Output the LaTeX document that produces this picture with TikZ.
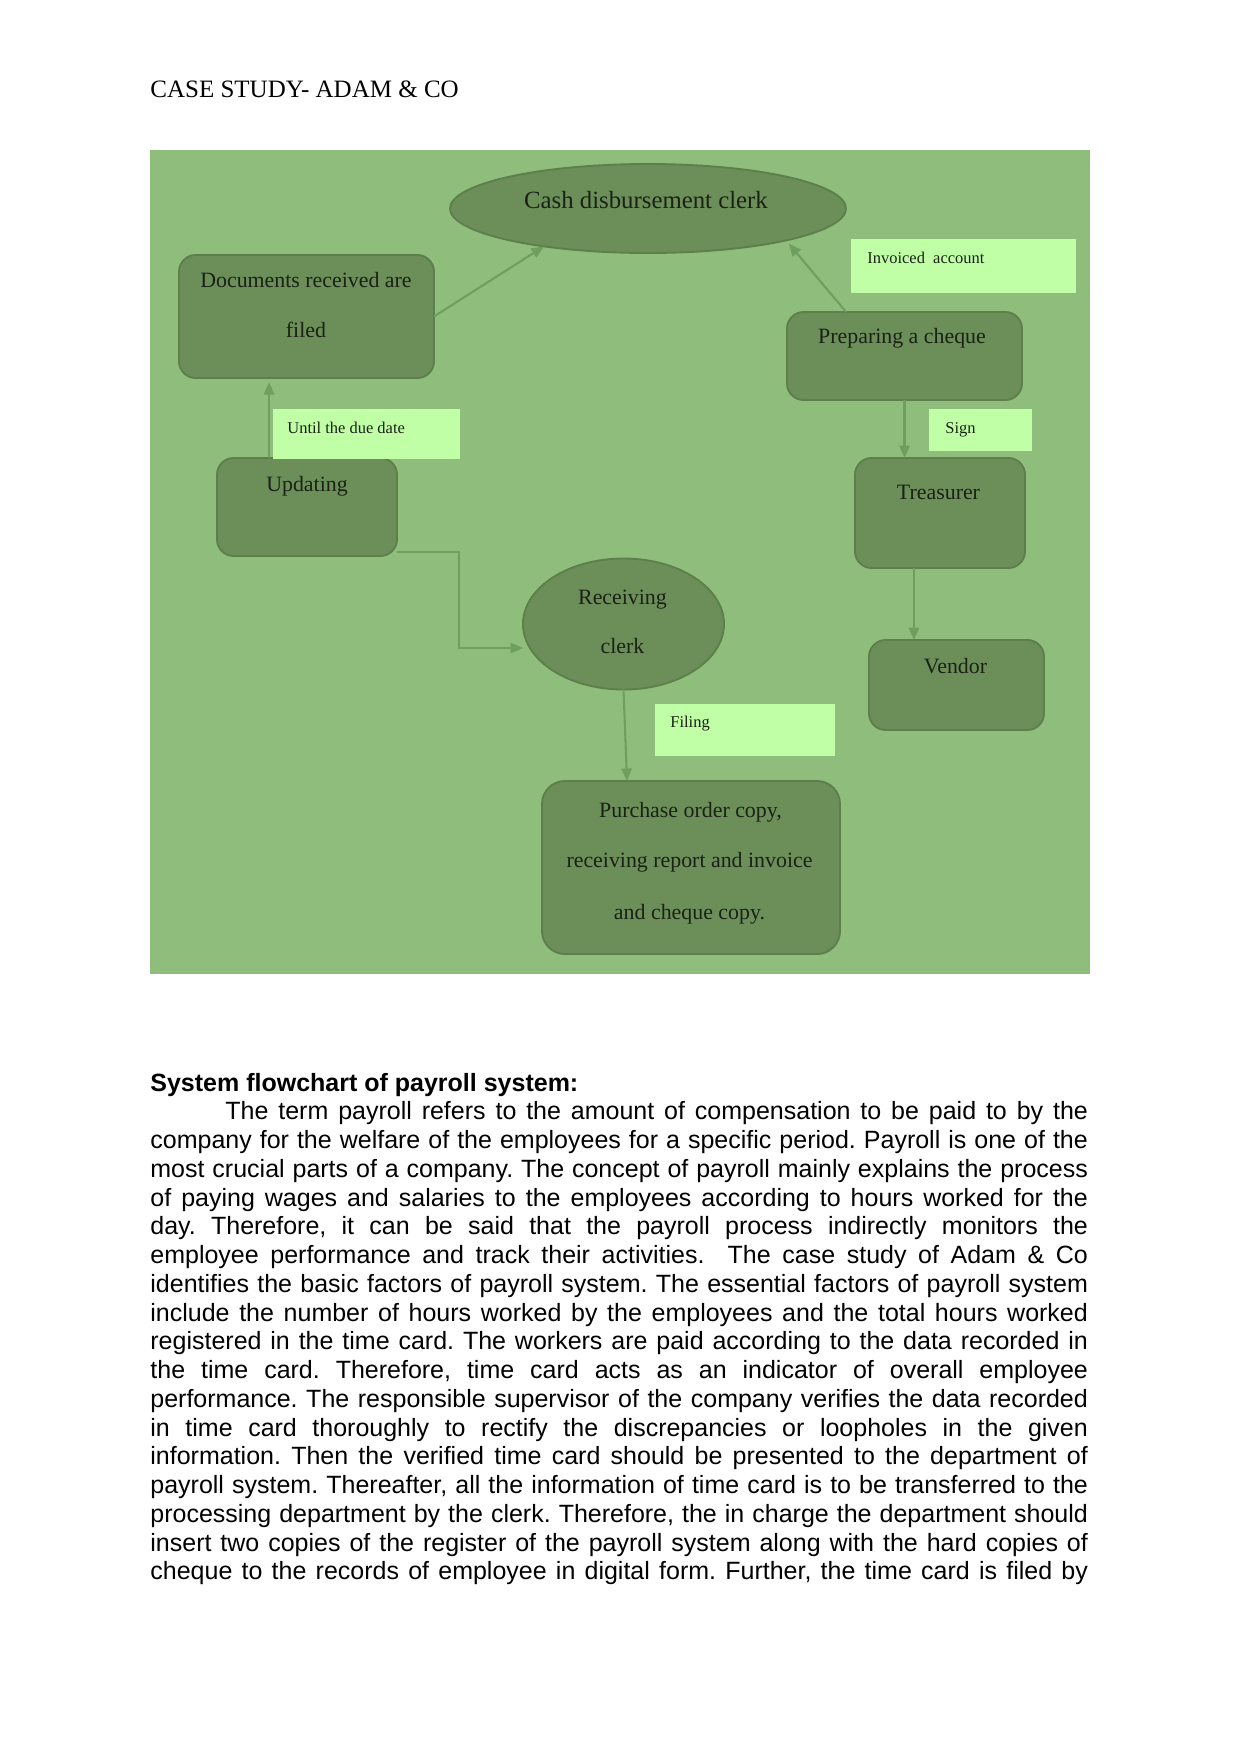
\documentclass[tikz,border=0pt]{standalone}
\usepackage{fontspec}
\setmainfont{Liberation Serif}
\newfontfamily\bodyfont{Liberation Sans}
\usetikzlibrary{shapes.geometric,arrows.meta}
\definecolor{bgc}{HTML}{8FBD7C}
\definecolor{nodefill}{HTML}{6C8F5A}
\definecolor{nodeborder}{HTML}{5C7F4C}
\definecolor{labelfill}{HTML}{C0FFA6}
\definecolor{arrowc}{HTML}{6E9F5E}
\definecolor{txtc}{HTML}{1A2115}
\begin{document}
\begin{tikzpicture}[x=0.48pt,y=-0.48pt,
  box/.style={draw=nodeborder, fill=nodefill, line width=0.9pt, rounded corners=8pt,
    inner sep=0pt, outer sep=0pt, rectangle},
  oval/.style={draw=nodeborder, fill=nodefill, line width=0.9pt, ellipse,
    inner sep=0pt, outer sep=0pt},
  lab/.style={fill=labelfill, inner sep=0pt, outer sep=0pt, rectangle},
  btxt/.style={anchor=base, inner sep=0pt, text=txtc, font=\fontsize{10.5}{12}\selectfont},
  ltxt/.style={anchor=base west, inner sep=0pt, text=txtc, font=\fontsize{7.9}{9}\selectfont},
  arr/.style={draw=arrowc, line width=1pt, -{Triangle[length=6pt,width=5pt]}}
]
\useasboundingbox (0,0) rectangle (1241,1754);
\fill[white] (0,0) rectangle (1241,1754);

% header
\node[anchor=base west, inner sep=0pt, font=\fontsize{12}{14}\selectfont] (hdr) at (150,97) {CASE STUDY- ADAM \& CO};

% diagram background
\fill[bgc] (150,150) rectangle (1090,974);

% shapes
\node[oval, minimum width=190.08pt, minimum height=42.72pt] (cash) at (648,208.5) {};
\node[box, minimum width=122.4pt, minimum height=59.04pt] (docs) at (306.5,316.5) {};
\node[box, minimum width=86.4pt, minimum height=47.04pt] (upd) at (307,507) {};
\node[box, minimum width=112.8pt, minimum height=42.24pt] (prep) at (904.5,356) {};
\node[box, minimum width=81.6pt, minimum height=52.8pt] (treas) at (940,513) {};
\node[box, minimum width=84pt, minimum height=43.2pt] (vendor) at (956.5,685) {};
\node[box, minimum width=143.04pt, minimum height=83.04pt, rounded corners=11pt] (purch) at (691,867.5) {};
\node[oval, minimum width=96.48pt, minimum height=62.88pt] (recv) at (623.5,624) {};

% label boxes
\node[lab, minimum width=89.76pt, minimum height=24pt] (until) at (366.5,434) {};
\node[lab, minimum width=108pt, minimum height=25.92pt] (invoiced) at (963.5,266) {};
\node[lab, minimum width=49.44pt, minimum height=20.16pt] (sign) at (980.5,430) {};
\node[lab, minimum width=86.4pt, minimum height=24.96pt] (filing) at (745,730) {};

% texts in shapes
\node[btxt, font=\fontsize{11.9}{13}\selectfont] (tcash) at (646,208) {Cash disbursement clerk};
\node[btxt] (tdocs1) at (306,287) {Documents received are};
\node[btxt] (tdocs2) at (306,337) {filed};
\node[btxt] (tupd) at (307,491) {Updating};
\node[btxt] (tprep) at (902,343) {Preparing a cheque};
\node[btxt] (ttreas) at (938.5,499) {Treasurer};
\node[btxt] (tvendor) at (955.5,673) {Vendor};
\node[btxt] (trecv1) at (622.5,604) {Receiving};
\node[btxt] (trecv2) at (622.5,653) {clerk};
\node[btxt] (tpurch1) at (690.5,817) {Purchase order copy,};
\node[btxt] (tpurch2) at (689.5,867) {receiving report and invoice};
\node[btxt] (tpurch3) at (689.5,919) {and cheque copy.};

% label texts
\node[ltxt] (tuntil) at (287,433) {Until the due date};
\node[ltxt] (tinvoiced) at (867,263) {Invoiced\ \ account};
\node[ltxt] (tsign) at (945,433) {Sign};
\node[ltxt] (tfiling) at (670,727) {Filing};

% connectors
\coordinate (b1) at (459,552);
\coordinate (b2) at (459,648);
\draw[arr] (docs.east) -- (cash.200);
\draw[arr, shorten >=2pt] (prep.143) -- (cash.347);
\draw[arr] (prep.south) -- (prep.south |- treas.north);
\draw[arr] ([xshift=-12.5pt]treas.south) -- ([xshift=-12.5pt]treas.south |- vendor.north);
\draw[arr, shorten >=2pt] ([xshift=-18.2pt]upd.north) -- ([xshift=-18.2pt]upd.north |- docs.south);
\draw[arr] (upd.east |- b1) -- (b1) -- (b2) -- (recv.west |- b2);
\draw[arr] (recv.south) -- ([xshift=-30.7pt]purch.north);

% body text
\node[anchor=base west, inner sep=0pt, text width=450pt, align=justify,
  font=\bodyfont\fontsize{12}{13.8}\selectfont] (body) at (150,1091) {%
\frenchspacing\tolerance=10000\hbadness=10000\hyphenpenalty=10000\exhyphenpenalty=10000
\leftskip=0pt\rightskip=0pt
\spaceskip=0.278em plus 1em minus 0.14em\xspaceskip=\spaceskip
{\bfseries System flowchart of payroll system:\hfill}\par
\parindent=36pt\parfillskip=0pt
The term payroll refers to the amount of compensation to be paid to by the\linebreak
company for the welfare of the employees for a specific period. Payroll is one of the\linebreak
most crucial parts of a company. The concept of payroll mainly explains the process\linebreak
of paying wages and salaries to the employees according to hours worked for the\linebreak
day. Therefore, it can be said that the payroll process indirectly monitors the\linebreak
employee performance and track their activities.\ \ The case study of Adam \& Co\linebreak
identifies the basic factors of payroll system. The essential factors of payroll system\linebreak
include the number of hours worked by the employees and the total hours worked\linebreak
registered in the time card. The workers are paid according to the data recorded in\linebreak
the time card. Therefore, time card acts as an indicator of overall employee\linebreak
performance. The responsible supervisor of the company verifies the data recorded\linebreak
in time card thoroughly to rectify the discrepancies or loopholes in the given\linebreak
information. Then the verified time card should be presented to the department of\linebreak
payroll system. Thereafter, all the information of time card is to be transferred to the\linebreak
processing department by the clerk. Therefore, the in charge the department should\linebreak
insert two copies of the register of the payroll system along with the hard copies of\linebreak
cheque to the records of employee in digital form. Further, the time card is filed by\par};
\end{tikzpicture}
\end{document}
